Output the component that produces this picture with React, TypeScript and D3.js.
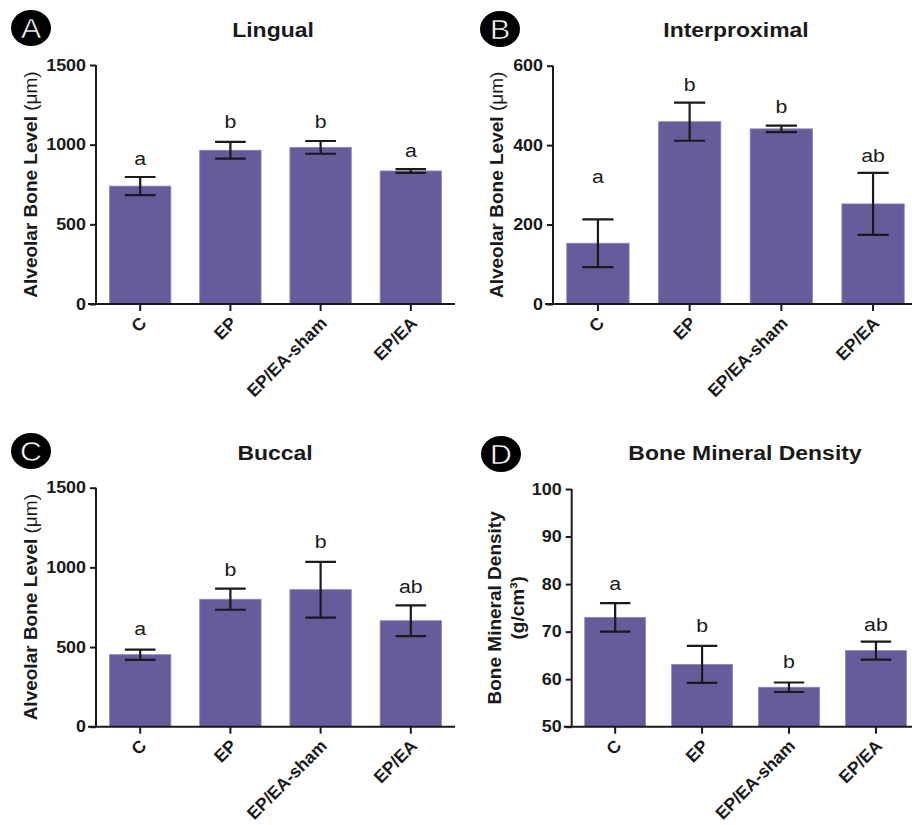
import * as d3 from 'd3';
import React, { useEffect, useRef } from 'react';

// groups shared by all four panels
const groups = ['C', 'EP', 'EP/EA-sham', 'EP/EA'];

// A - lingual
const lingualMean = [740, 965, 983, 835];
const lingualErr = [57, 52, 40, 12];
const lingualLetters = ['a', 'b', 'b', 'a'];
const lingualLetterAt = [872, 1105, 1105, 922];
const lingualTicks = [0, 500, 1000, 1500];

// B - interproximal
const interMean = [153, 459, 441, 252];
const interErr = [60, 48, 8, 78];
const interLetters = ['a', 'b', 'b', 'ab'];
const interLetterAt = [305, 537, 480, 358];
const interTicks = [0, 200, 400, 600];

// C - buccal
const buccalMean = [452, 800, 860, 665];
const buccalErr = [32, 66, 175, 96];
const buccalLetters = ['a', 'b', 'b', 'ab'];
const buccalLetterAt = [575, 948, 1120, 837];
const buccalTicks = [0, 500, 1000, 1500];

// D - bone mineral density
const bmdMean = [73.0, 63.1, 58.3, 66.0];
const bmdErr = [3.0, 3.9, 1.0, 1.9];
const bmdLetters = ['a', 'b', 'b', 'ab'];
const bmdLetterAt = [78.8, 69.9, 62.3, 70.2];
const bmdTicks = [50, 60, 70, 80, 90, 100];

const BAR = '#675b9b';
const INK = '#1a1a1a';
const FONT = '"Liberation Sans", Arial, sans-serif';
// the original figure is slightly stretched sideways
const WIDE = 1.12;

type PanelSpec = {
    tag: string;
    tagX: number;
    tagY: number;
    title: string;
    titleX: number;
    titleY: number;
    left: number;
    right: number;
    top: number;
    bottom: number;
    inner: number;
    yLabel: string[];
    yLabelX: number[];
    mean: number[];
    err: number[];
    letters: string[];
    letterAt: number[];
    ticks: number[];
};

const panels: PanelSpec[] = [
    { tag: 'A', tagX: 31, tagY: 28, title: 'Lingual', titleX: 273, titleY: 37,
        left: 96, right: 455, top: 65, bottom: 304, inner: 0.32,
        yLabel: ['Alveolar Bone Level '], yLabelX: [37],
        mean: lingualMean, err: lingualErr, letters: lingualLetters, letterAt: lingualLetterAt, ticks: lingualTicks },
    { tag: 'B', tagX: 500, tagY: 29, title: 'Interproximal', titleX: 736, titleY: 37,
        left: 553, right: 918, top: 65.7, bottom: 304, inner: 0.32,
        yLabel: ['Alveolar Bone Level '], yLabelX: [503],
        mean: interMean, err: interErr, letters: interLetters, letterAt: interLetterAt, ticks: interTicks },
    { tag: 'C', tagX: 31, tagY: 451, title: 'Buccal', titleX: 275, titleY: 460,
        left: 96, right: 455, top: 487.7, bottom: 726.7, inner: 0.32,
        yLabel: ['Alveolar Bone Level '], yLabelX: [37],
        mean: buccalMean, err: buccalErr, letters: buccalLetters, letterAt: buccalLetterAt, ticks: buccalTicks },
    { tag: 'D', tagX: 501, tagY: 454, title: 'Bone Mineral Density', titleX: 745, titleY: 460,
        left: 571.7, right: 919.4, top: 489, bottom: 726.7, inner: 0.3,
        yLabel: ['Bone Mineral Density', '(g/cm³)'], yLabelX: [501, 524],
        mean: bmdMean, err: bmdErr, letters: bmdLetters, letterAt: bmdLetterAt, ticks: bmdTicks }
];

function drawPanel(svg: any, p: PanelSpec) {
    const x = d3.scaleBand()
        .domain(groups)
        .range([ p.left, p.right ])
        .paddingInner(p.inner)
        .paddingOuter(0.15);
    const y = d3.scaleLinear()
        .domain([ p.ticks[0], p.ticks[p.ticks.length - 1] ])
        .range([ p.bottom, p.top ]);

    const g = svg.append('g').attr('font-family', FONT);

    // panel tag
    g.append('ellipse')
        .attr('cx', p.tagX)
        .attr('cy', p.tagY)
        .attr('rx', 20)
        .attr('ry', 18)
        .attr('fill', '#000');
    g.append('text')
        .attr('transform', `translate(${p.tagX},${p.tagY}) scale(1.08,1)`)
        .attr('dy', '0.36em')
        .attr('text-anchor', 'middle')
        .attr('font-size', 28)
        .attr('fill', '#fff')
        .attr('stroke', '#000')
        .attr('stroke-width', 0.6)
        .text(p.tag);

    g.append('text')
        .attr('transform', `translate(${p.titleX},${p.titleY}) scale(${WIDE},1)`)
        .attr('text-anchor', 'middle')
        .attr('font-size', 20.5)
        .attr('font-weight', 'bold')
        .attr('fill', INK)
        .text(p.title);

    // bars
    g.selectAll('rect.bar')
        .data(p.mean)
        .enter()
        .append('rect')
        .attr('class', 'bar')
        .attr('x', (_, i) => x(groups[i]))
        .attr('width', x.bandwidth())
        .attr('y', d => y(d))
        .attr('height', d => p.bottom - y(d))
        .attr('fill', BAR)
        .attr('stroke', '#8d84c0')
        .attr('stroke-width', 0.8);

    // error bars
    const cap = x.bandwidth() / 4;
    p.mean.forEach((m, i) => {
        const cx = x(groups[i]) + x.bandwidth() / 2;
        const hi = y(m + p.err[i]);
        const lo = y(m - p.err[i]);
        const path = `M${cx},${hi}V${lo}M${cx - cap},${hi}H${cx + cap}M${cx - cap},${lo}H${cx + cap}`;
        g.append('path')
            .attr('d', path)
            .attr('fill', 'none')
            .attr('stroke', INK)
            .attr('stroke-width', 2.2);
        g.append('text')
            .attr('transform', `translate(${cx},${y(p.letterAt[i])}) scale(${WIDE},1)`)
            .attr('text-anchor', 'middle')
            .attr('font-size', 19)
            .attr('fill', INK)
            .text(p.letters[i]);
    });

    // y axis
    const yAxis = g.append('g')
        .attr('transform', `translate(${p.left},0)`)
        .call(d3.axisLeft(y).tickValues(p.ticks).tickSize(6).tickPadding(4).tickFormat(d3.format('d')));
    yAxis.select('.domain').attr('d', `M0,${p.top}V${p.bottom}`);

    // x axis
    const xAxis = g.append('g')
        .attr('transform', `translate(0,${p.bottom})`)
        .call(d3.axisBottom(x).tickSize(7).tickSizeOuter(0));
    xAxis.select('.domain').attr('d', `M${p.left - 8},0H${p.right}`);
    xAxis.selectAll('text')
        .attr('text-anchor', 'end')
        .attr('x', 0)
        .attr('y', 0)
        .attr('dy', '0.35em')
        .attr('transform', 'translate(3,16) rotate(-45)')
        .attr('font-size', 17.5);

    [ yAxis, xAxis ].forEach(ax => {
        ax.selectAll('.domain, line').attr('stroke', INK).attr('stroke-width', 2);
        ax.selectAll('text')
            .attr('fill', INK)
            .attr('font-family', FONT)
            .attr('font-weight', 'bold');
    });
    yAxis.selectAll('text')
        .attr('font-size', 16)
        .attr('x', -10 / WIDE)
        .attr('transform', `scale(${WIDE},1)`);

    // y label
    const midY = (p.top + p.bottom) / 2;
    p.yLabel.forEach((line, k) => {
        const t = g.append('text')
            .attr('transform', `translate(${p.yLabelX[k]},${midY}) rotate(-90)`)
            .attr('text-anchor', 'middle')
            .attr('font-size', 19)
            .attr('font-weight', 'bold')
            .attr('fill', INK)
            .text(line);
        if (p.yLabel.length === 1) {
            t.append('tspan').attr('font-weight', 'normal').text('(μm)');
        }
    });
}

export default function App() {
    const ref = useRef<SVGSVGElement>(null);

    useEffect(() => {
        const svg = d3.select(ref.current);
        svg.selectAll('*').remove();
        panels.forEach(p => drawPanel(svg, p));
    }, []);

    return (
        <svg
            ref={ref}
            width={912}
            height={825}
            style={{ position: 'absolute', left: 0, top: 0, background: '#fff' }}
        />
    );
}
